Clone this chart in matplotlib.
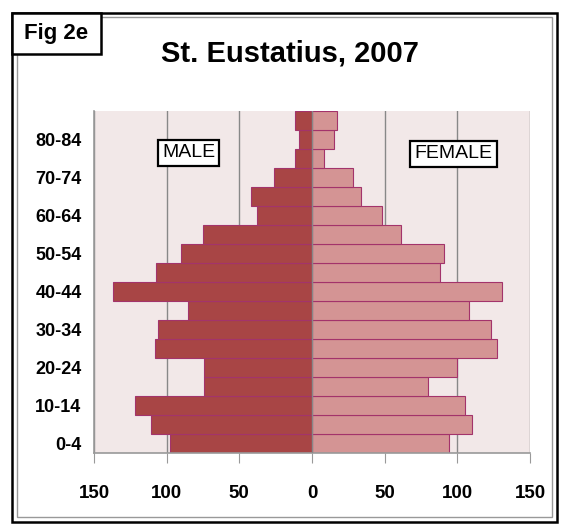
import numpy as np
import matplotlib
matplotlib.use("Agg")
import matplotlib.pyplot as plt
from matplotlib.patches import Rectangle

# age groups, bottom to top
age_groups = ['0-4', '5-9', '10-14', '15-19', '20-24', '25-29', '30-34', '35-39',
              '40-44', '45-49', '50-54', '55-59', '60-64', '65-69', '70-74',
              '75-79', '80-84', '85+']
male = [98, 111, 122, 74, 74, 108, 106, 85, 137, 107, 90, 75, 38, 42, 26, 12, 9, 12]
female = [94, 110, 105, 80, 100, 127, 123, 108, 131, 88, 91, 61, 48, 34, 28, 8, 15, 17]
x_ticks = [-150, -100, -50, 0, 50, 100, 150]

narrow = ['Liberation Sans Narrow', 'Liberation Sans', 'DejaVu Sans']
male_color = '#A84545'
female_color = '#D49494'
edge_color = '#A3336B'

fig = plt.figure(figsize=(5.69, 5.31), dpi=100)
W, H = 569, 531

def fx(px):
    return px / W

def fy(py):
    return 1 - py / H

# outer frame + inner gray line
fig.patches.append(Rectangle((fx(12), fy(522)), fx(557) - fx(12), fy(13) - fy(522),
                             transform=fig.transFigure, fill=False, ec='black', lw=1.8))
fig.patches.append(Rectangle((fx(17), fy(517)), fx(552) - fx(17), fy(17) - fy(517),
                             transform=fig.transFigure, fill=False, ec='#999999', lw=1.0))
# "Fig 2e" box in the corner
fig.patches.append(Rectangle((fx(12), fy(54)), fx(101) - fx(12), fy(13) - fy(54),
                             transform=fig.transFigure, fc='white', ec='black', lw=1.8,
                             zorder=3))

ax = fig.add_axes([fx(94), fy(453), fx(530) - fx(94), fy(111) - fy(453)])
ax.set_facecolor('#F2E8E8')

y = np.arange(len(age_groups))
ax.barh(y, [-m for m in male], height=1.0, color=male_color, edgecolor=edge_color,
        linewidth=0.8, zorder=2)
ax.barh(y, female, height=1.0, color=female_color, edgecolor=edge_color,
        linewidth=0.8, zorder=2)
ax.axvline(0, color='#888888', lw=1.0, zorder=3)

ax.set_xlim(-150, 150)
ax.set_ylim(-0.5, len(age_groups) - 0.5)
ax.set_xticks(x_ticks)
ax.set_xticklabels([str(abs(t)) for t in x_ticks], fontfamily=narrow,
                   fontweight='bold', fontsize=13.5)
ax.set_yticks(y[::2])
ax.set_yticklabels(age_groups[::2], fontfamily=narrow, fontweight='bold', fontsize=13)
ax.tick_params(axis='x', direction='out', length=7, color='#999999', pad=16)
ax.tick_params(axis='y', length=0, pad=9)
ax.grid(axis='x', color='#888888', lw=1.0, zorder=0)
ax.set_axisbelow(True)
for s in ['top', 'right']:
    ax.spines[s].set_visible(False)
for s in ['left', 'bottom']:
    ax.spines[s].set_color('#999999')
    ax.spines[s].set_linewidth(1.2)

bbox = dict(boxstyle='square,pad=0.22', fc='white', ec='black', lw=1.6)
ax.text(-85, 15.3, 'MALE', fontsize=14, ha='center', va='center',
        family=['Liberation Sans', 'DejaVu Sans'], bbox=bbox, zorder=5)
ax.text(97.5, 15.25, 'FEMALE', fontsize=14, ha='center', va='center',
        family=['Liberation Sans', 'DejaVu Sans'], bbox=bbox, zorder=5)

fig.text(fx(290), fy(53), 'St. Eustatius, 2007', ha='center', va='center',
         fontsize=21, fontweight='bold', family=narrow)
fig.text(fx(56), fy(33), 'Fig 2e', ha='center', va='center', fontsize=16,
         fontweight='bold', family=['Liberation Sans', 'DejaVu Sans'], zorder=4)

fig.savefig('out.png', dpi=100)
